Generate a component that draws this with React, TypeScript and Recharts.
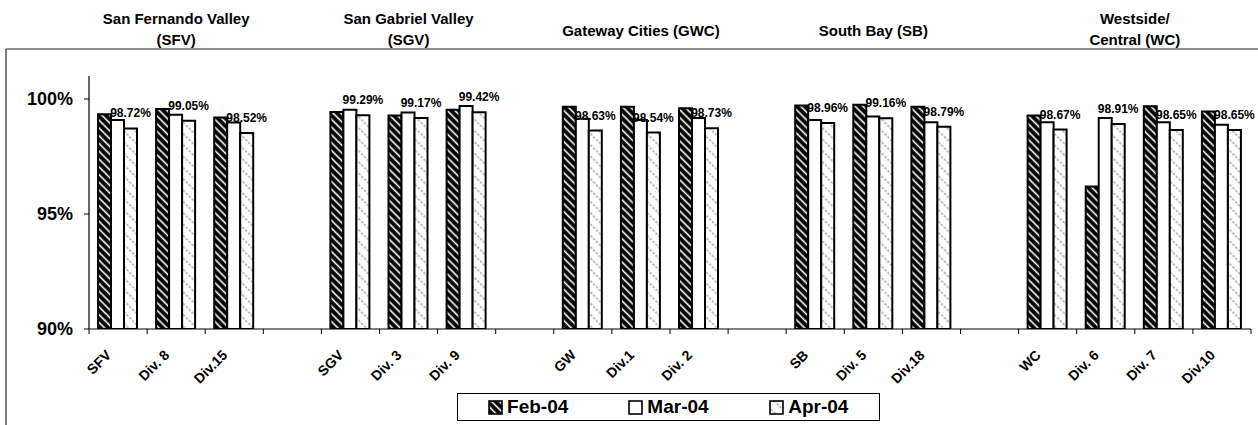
import React from 'react';
import { BarChart, Bar, XAxis, YAxis, LabelList } from 'recharts';

// chart values
const categories = [
  'SFV', 'Div. 8', 'Div.15', '',
  'SGV', 'Div. 3', 'Div. 9', '',
  'GW', 'Div.1', 'Div. 2', '',
  'SB', 'Div. 5', 'Div.18', '',
  'WC', 'Div. 6', 'Div. 7', 'Div.10',
];
const feb04 = [
  99.34, 99.56, 99.2, null,
  99.43, 99.28, 99.53, null,
  99.66, 99.66, 99.6, null,
  99.72, 99.75, 99.66, null,
  99.28, 96.2, 99.68, 99.46,
];
const mar04 = [
  99.09, 99.31, 98.98, null,
  99.53, 99.41, 99.7, null,
  99.14, 99.09, 99.17, null,
  99.09, 99.24, 98.99, null,
  98.99, 99.17, 98.99, 98.88,
];
const apr04 = [
  98.72, 99.05, 98.52, null,
  99.29, 99.17, 99.42, null,
  98.63, 98.54, 98.73, null,
  98.96, 99.16, 98.79, null,
  98.67, 98.91, 98.65, 98.65,
];
const yTicks = [90, 95, 100];
const seriesNames = ['Feb-04', 'Mar-04', 'Apr-04'];
const groupTitles = [
  ['San Fernando Valley', '(SFV)'],
  ['San Gabriel Valley', '(SGV)'],
  ['Gateway Cities (GWC)'],
  ['South Bay (SB)'],
  ['Westside/', 'Central (WC)'],
];
const groupRanges = [[0, 2], [4, 6], [8, 10], [12, 14], [16, 19]];

const data = categories.map((name, i) => ({
  name,
  feb: feb04[i],
  mar: mar04[i],
  apr: apr04[i],
}));

const W = 1258;
const H = 425;
const PLOT_LEFT = 89;
const PLOT_RIGHT = 1251;
const PLOT_TOP = 76;
const PLOT_BOTTOM = 329;
const BAND = (PLOT_RIGHT - PLOT_LEFT) / categories.length;
const FONT = '"Liberation Sans", Arial, Helvetica, sans-serif';

const CategoryTick = (props: any) => {
  const { x, y, payload, index } = props;
  const half = BAND / 2;
  const tx = x - 6;
  const ty = y + 19;
  return (
    <g>
      <line x1={x - half} x2={x - half} y1={y - 8} y2={y - 3} stroke="#000" strokeWidth={1} />
      {index === categories.length - 1 && (
        <line x1={x + half} x2={x + half} y1={y - 8} y2={y - 3} stroke="#000" strokeWidth={1} />
      )}
      {payload.value ? (
        <text
          x={tx}
          y={ty}
          transform={`rotate(-45, ${tx}, ${ty})`}
          textAnchor="end"
          fontFamily={FONT}
          fontWeight="bold"
          fontSize={14}
          fill="#000"
        >
          {payload.value}
        </text>
      ) : null}
    </g>
  );
};

const LegendIcon = ({ fill }: { fill: string }) => (
  <svg width={15} height={15} style={{ display: 'block' }}>
    <rect x={1} y={1} width={13} height={13} fill={fill} stroke="#000" strokeWidth={1.6} />
  </svg>
);

export default function App() {
  const fills = ['url(#hatchDark)', '#fff', 'url(#hatchLight)'];
  return (
    <div style={{ position: 'absolute', left: 0, top: 0, width: W, height: H, background: '#fff', fontFamily: FONT }}>
      <svg width={0} height={0} style={{ position: 'absolute' }}>
        <defs>
          <pattern id="hatchDark" width={5.5} height={5.5} patternUnits="userSpaceOnUse" patternTransform="rotate(-45)">
            <rect width={5.5} height={5.5} fill="#000" />
            <line x1={1.5} y1={0} x2={1.5} y2={5.5} stroke="#fff" strokeWidth={1.6} />
          </pattern>
          <pattern id="hatchLight" width={8} height={8} patternUnits="userSpaceOnUse" patternTransform="rotate(-45)">
            <rect width={8} height={8} fill="#fff" />
            <line x1={3} y1={0} x2={3} y2={8} stroke="#555" strokeWidth={0.8} strokeDasharray="2.5 1.5" />
          </pattern>
        </defs>
      </svg>

      {/* outer frame and group titles */}
      <svg width={W} height={H} style={{ position: 'absolute', left: 0, top: 0 }}>
        <line x1={6} y1={49} x2={W} y2={49} stroke="#222" strokeWidth={1.2} />
        <line x1={6} y1={49} x2={6} y2={H} stroke="#222" strokeWidth={1.2} />
        {groupTitles.map((lines, g) => {
          const [a, b] = groupRanges[g];
          const cx = PLOT_LEFT + ((a + b + 1) / 2) * BAND;
          const baselines = lines.length === 2 ? [24, 45] : [36];
          return lines.map((t, k) => (
            <text
              key={`${g}-${k}`}
              x={cx}
              y={baselines[k]}
              textAnchor="middle"
              fontFamily={FONT}
              fontWeight="bold"
              fontSize={15}
              fill="#000"
            >
              {t}
            </text>
          ));
        })}
      </svg>

      <div style={{ position: 'absolute', left: 0, top: 0 }}>
        <BarChart
          width={W}
          height={H}
          data={data}
          margin={{ top: PLOT_TOP, right: W - PLOT_RIGHT, left: PLOT_LEFT - 80, bottom: H - PLOT_BOTTOM - 60 }}
          barCategoryGap="15.5%"
          barGap={0}
        >
          <XAxis
            dataKey="name"
            interval={0}
            height={60}
            tickLine={false}
            axisLine={{ stroke: '#000', strokeWidth: 1.2 }}
            tick={<CategoryTick />}
          />
          <XAxis xAxisId="top" dataKey="name" orientation="top" height={0} tick={false} tickLine={false} axisLine={{ stroke: '#222', strokeWidth: 1 }} />
          <YAxis
            width={80}
            domain={[90, 101]}
            ticks={yTicks}
            allowDataOverflow
            tickSize={5}
            tickMargin={11}
            tickFormatter={(v: number) => `${v}%`}
            tick={{ fontFamily: FONT, fontWeight: 'bold', fontSize: 18, fill: '#000' }}
            tickLine={{ stroke: '#000' }}
            axisLine={{ stroke: '#000', strokeWidth: 1.2 }}
          />
          <YAxis yAxisId="right" orientation="right" width={0} domain={[90, 101]} tick={false} tickLine={false} axisLine={{ stroke: '#222', strokeWidth: 1 }} />
          <Bar dataKey="feb" name={seriesNames[0]} fill={fills[0]} stroke="#000" strokeWidth={2} isAnimationActive={false} />
          <Bar dataKey="mar" name={seriesNames[1]} fill={fills[1]} stroke="#000" strokeWidth={2} isAnimationActive={false} />
          <Bar dataKey="apr" name={seriesNames[2]} fill={fills[2]} stroke="#000" strokeWidth={2} isAnimationActive={false}>
            <LabelList
              dataKey="apr"
              position="top"
              offset={11}
              formatter={(v: any) => (v == null ? '' : `${Number(v).toFixed(2)}%`)}
              style={{ fontFamily: FONT, fontWeight: 'bold', fontSize: 12, fill: '#000' }}
            />
          </Bar>
        </BarChart>
      </div>

      {/* legend */}
      <div
        style={{
          position: 'absolute',
          left: 457,
          top: 393,
          width: 423,
          height: 28,
          border: '1.5px solid #000',
          boxSizing: 'border-box',
          display: 'flex',
          background: '#fff',
        }}
      >
        {seriesNames.map((s, i) => (
          <div key={s} style={{ flex: 1, display: 'flex', alignItems: 'center', justifyContent: 'center', gap: 4 }}>
            <LegendIcon fill={fills[i]} />
            <span style={{ fontWeight: 'bold', fontSize: 19, color: '#000', lineHeight: '20px' }}>{s}</span>
          </div>
        ))}
      </div>
    </div>
  );
}
